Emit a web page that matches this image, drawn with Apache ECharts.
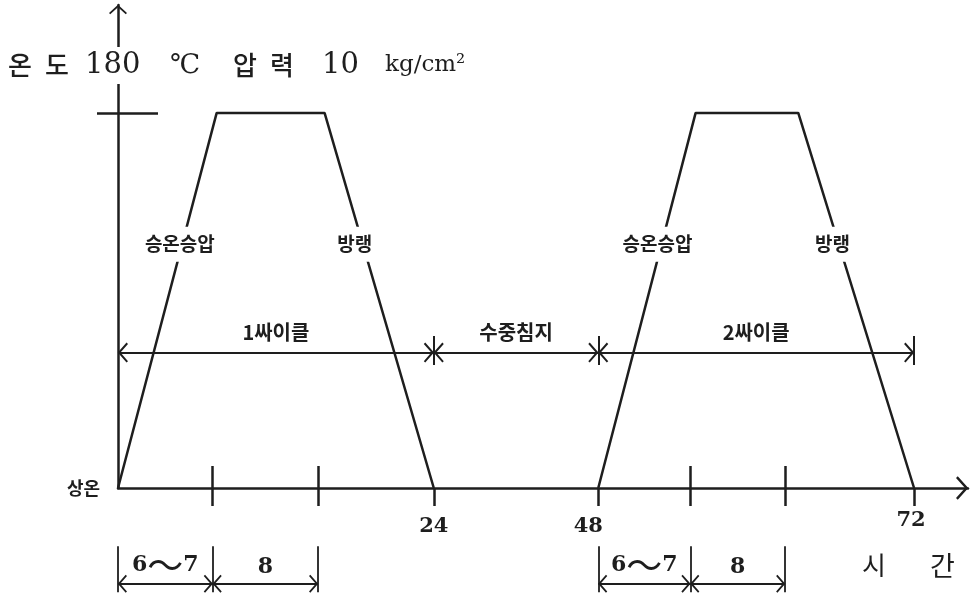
<!DOCTYPE html>
<html>
<head>
<meta charset="utf-8">
<script src="https://cdn.jsdelivr.net/npm/echarts@6/dist/echarts.min.js"></script>
<style>
  html, body { margin: 0; padding: 0; background: #fff; }
  #chart { width: 972px; height: 595px; }
</style>
</head>
<body>
<div id="chart"></div>
<script>
// 시간(h) - 온도(℃) 사이클
var cycle1Hours = [0, 7.5, 15.7, 24];
var cycle2Hours = [48, 55.4, 63.2, 72];
var cycleTemp = [0, 180, 180, 0];

var hourTicks = [24, 48, 72];
var stepTicks = [7.2, 15.2, 55, 62.2];
var tempTicks = [180];

var spanBounds = [0, 24, 48, 72];
var spanNames = ['1싸이클', '수중침지', '2싸이클'];

var phaseNames = ['승온승압', '방랭', '승온승압', '방랭'];
var phaseHours = [4.7, 18.0, 52.5, 65.8];
var phaseTemp = [117, 117, 117, 117];

var stepFrom = [0, 7.2, 48, 55];
var stepTo = [7.2, 15.2, 55, 62.2];
var stepNames = ['{n|6}{w|〜}{n|7}', '{n|8}', '{n|6}{w|〜}{n|7}', '{n|8}'];

// 24~48h 수중침지 구간은 그림에서 줄여서 그림
var GAP_CUT = 11.5;
function pos(t) { return t >= 48 ? t - GAP_CUT : t; }

var INK = '#1e1e1e';
var FONT_KR = "'Noto Sans CJK KR', sans-serif";
var FONT_NUM = "'DejaVu Serif', 'Noto Sans CJK KR', serif";
// 끝이 가운데 오는 열린 화살촉
var CHEV = 'path://M10,10L20,19L18.6,20.5L10,12.8L1.4,20.5L0,19ZM10,0L10.02,0L10,0.02Z';

var X_MAX = 64.6, Y_MAX = 231.8;
var SPAN_Y = 65, SPAN_BAR = [59, 73];
// 아래쪽 치수선은 축 밖이라 따로 grid 를 둠
var STEP_MIN = -51, STEP_MAX = -20;
var STEP_Y = -46, STEP_BAR = [-28, -50];

var myChart = echarts.init(document.getElementById('chart'));

function toPoints(hours) {
  return hours.map(function (t, i) { return [pos(t), cycleTemp[i]]; });
}

function bar(x, range) {
  return [
    { coord: [x, range[0]], symbol: 'none', label: { show: false } },
    { coord: [x, range[1]], symbol: 'none' }
  ];
}

var spanLines = spanNames.map(function (n, i) {
  return [
    { coord: [pos(spanBounds[i]), SPAN_Y], name: n },
    { coord: [pos(spanBounds[i + 1]), SPAN_Y] }
  ];
});
spanBounds.slice(1).forEach(function (t) { spanLines.push(bar(pos(t), SPAN_BAR)); });

var stepLines = stepNames.map(function (n, i) {
  return [
    { coord: [pos(stepFrom[i]), STEP_Y], name: n },
    { coord: [pos(stepTo[i]), STEP_Y] }
  ];
});
stepFrom.concat([15.2, 62.2]).forEach(function (t) { stepLines.push(bar(pos(t), STEP_BAR)); });

var hourLabel = {};
hourTicks.forEach(function (t) { hourLabel[pos(t)] = t; });

var hidden = {
  axisLine: { show: false }, axisTick: { show: false },
  axisLabel: { show: false }, splitLine: { show: false }
};

var option = {
  animation: false,
  backgroundColor: '#fff',
  title: {
    left: 4,
    top: 47,
    padding: [4, 4],
    backgroundColor: '#fff',
    text: '{k|온}{k2|도}{d|180}{c|℃}{k|압}{k3|력}{d2|10}{u|kg/cm²}',
    textStyle: {
      fontWeight: 'normal',
      rich: {
        k: { width: 37, fontSize: 26, fontWeight: 500, fontFamily: FONT_KR, color: INK, lineHeight: 28 },
        k2: { width: 40, fontSize: 26, fontWeight: 500, fontFamily: FONT_KR, color: INK },
        k3: { width: 52, fontSize: 26, fontWeight: 500, fontFamily: FONT_KR, color: INK },
        d: { width: 85, fontSize: 29, fontFamily: FONT_NUM, color: INK },
        d2: { width: 63, fontSize: 29, fontFamily: FONT_NUM, color: INK },
        c: { width: 63, fontSize: 27, fontFamily: FONT_NUM, color: INK },
        u: { fontSize: 23, fontFamily: FONT_NUM, color: INK }
      }
    }
  },
  grid: [
    { left: 118, right: 4, top: 5, bottom: 107 },
    { left: 118, right: 4, top: 488 - STEP_MAX * 483 / Y_MAX, bottom: 595 - 488 + STEP_MIN * 483 / Y_MAX }
  ],
  xAxis: [
    {
      type: 'value', min: 0, max: X_MAX,
      axisLine: { symbol: ['none', CHEV], symbolSize: [26, 24], lineStyle: { color: INK, width: 2.5 } },
      axisTick: { show: true, customValues: hourTicks.concat(stepTicks).map(pos), length: 18, lineStyle: { color: INK, width: 2.5 } },
      axisLabel: {
        customValues: hourTicks.map(pos),
        margin: 22,
        formatter: function (v) {
          var h = hourLabel[v];
          return h === 48 ? '{s|' + h + '}' : h === 72 ? '{e|' + h + '}' : '{a|' + h + '}';
        },
        rich: {
          a: { fontSize: 21, fontWeight: 'bold', fontFamily: FONT_NUM, color: INK, padding: [6, 0, 0, 0] },
          s: { fontSize: 21, fontWeight: 'bold', fontFamily: FONT_NUM, color: INK, padding: [6, 20, 0, 0] },
          e: { fontSize: 21, fontWeight: 'bold', fontFamily: FONT_NUM, color: INK, padding: [0, 6, 0, 0] }
        }
      },
      splitLine: { show: false }
    },
    {
      type: 'value', min: 0, max: X_MAX, position: 'bottom',
      axisLine: { show: false },
      axisTick: { show: true, inside: true, customValues: stepTicks.map(pos), length: 22, lineStyle: { color: INK, width: 2.5 } },
      axisLabel: { show: false },
      splitLine: { show: false }
    },
    Object.assign({ type: 'value', gridIndex: 1, min: 0, max: X_MAX }, hidden)
  ],
  yAxis: [
    {
      type: 'value', min: 0, max: Y_MAX,
      axisLine: { symbol: ['none', CHEV], symbolSize: [18, 30], lineStyle: { color: INK, width: 2.5 } },
      axisTick: { show: true, customValues: tempTicks, length: 21, lineStyle: { color: INK, width: 2.5 } },
      axisLabel: {
        customValues: [0], margin: 18,
        formatter: function () { return '상온'; },
        fontSize: 18, fontWeight: 'bold', fontFamily: FONT_KR, color: INK
      },
      splitLine: { show: false }
    },
    {
      type: 'value', min: 0, max: Y_MAX, position: 'left',
      axisLine: { show: false },
      axisTick: { show: true, inside: true, customValues: tempTicks, length: 40, lineStyle: { color: INK, width: 2.5 } },
      axisLabel: { show: false },
      splitLine: { show: false }
    },
    Object.assign({ type: 'value', gridIndex: 1, min: STEP_MIN, max: STEP_MAX }, hidden)
  ],
  graphic: [
    {
      type: 'text', left: 862, top: 552,
      style: {
        text: '{a|시}{b|간}',
        rich: {
          a: { width: 68, fontSize: 26, fontFamily: FONT_KR, fill: INK },
          b: { fontSize: 27, fontFamily: FONT_KR, fill: INK }
        }
      }
    }
  ],
  series: [
    {
      type: 'line',
      data: toPoints(cycle1Hours),
      symbol: 'none',
      clip: false,
      lineStyle: { color: INK, width: 2.5 },
      markPoint: {
        silent: true,
        symbol: 'circle',
        symbolSize: 1,
        itemStyle: { color: 'rgba(0,0,0,0)' },
        label: {
          show: true, position: 'inside',
          formatter: function (p) { return p.name; },
          backgroundColor: '#fff', padding: [8, 3],
          fontSize: 19, fontWeight: 'bold', fontFamily: FONT_KR, color: INK
        },
        data: phaseNames.map(function (n, i) {
          return { name: n, coord: [pos(phaseHours[i]), phaseTemp[i]] };
        })
      },
      markLine: {
        silent: true,
        symbol: [CHEV, CHEV],
        symbolSize: 20,
        lineStyle: { color: INK, width: 2, type: 'solid' },
        label: {
          show: true, position: 'middle', distance: 10,
          formatter: function (p) { return p.name; },
          fontSize: 20, fontWeight: 'bold', fontFamily: FONT_KR, color: INK
        },
        emphasis: { disabled: true },
        data: spanLines
      }
    },
    {
      type: 'line',
      data: toPoints(cycle2Hours),
      symbol: 'none',
      clip: false,
      lineStyle: { color: INK, width: 2.5 }
    },
    {
      type: 'line',
      xAxisIndex: 2,
      yAxisIndex: 2,
      data: [],
      symbol: 'none',
      markLine: {
        silent: true,
        symbol: [CHEV, CHEV],
        symbolSize: 18,
        lineStyle: { color: INK, width: 1.8, type: 'solid' },
        label: {
          show: true, position: 'middle', distance: 6,
          formatter: function (p) { return p.name; },
          rich: {
            n: { fontSize: 22, fontWeight: 'bold', fontFamily: FONT_NUM, color: INK },
            w: { fontSize: 36, fontFamily: FONT_KR, color: INK, lineHeight: 26 }
          }
        },
        emphasis: { disabled: true },
        data: stepLines
      }
    }
  ]
};

myChart.setOption(option);
</script>
</body>
</html>
